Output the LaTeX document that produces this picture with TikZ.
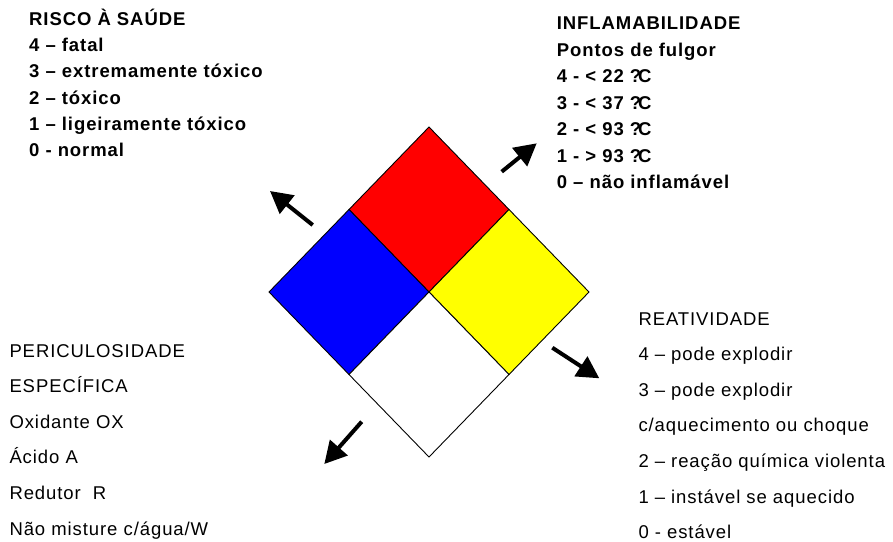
\documentclass[tikz,border=0pt]{standalone}
\usepackage{fontspec}
\setmainfont{Liberation Sans}
\newfontfamily\lblfont[LetterSpace=5]{Liberation Sans}
\usetikzlibrary{arrows.meta}
\begin{document}
\begin{tikzpicture}[x=1pt,y=-1pt,
  bl/.style={anchor=base west, inner sep=0pt, font=\lblfont\bfseries\fontsize{18.5}{22}\selectfont},
  rl/.style={anchor=base west, inner sep=0pt, font=\lblfont\fontsize{18.5}{22}\selectfont},
  quad/.style={draw=black, line width=0.9pt, line join=miter},
  hazarrow/.style={line width=4pt, -{Triangle[length=22pt,width=23pt]}}]
\useasboundingbox (0,0) rectangle (893,541);
% diamond vertices
\coordinate (T) at (429,127);
\coordinate (L) at (269,292);
\coordinate (R) at (589,292);
\coordinate (B) at (429,457);
\coordinate (C) at (429,292);
\coordinate (TL) at (349,209.5);
\coordinate (TR) at (509,209.5);
\coordinate (BL) at (349,374.5);
\coordinate (BR) at (509,374.5);
\filldraw[quad, fill={rgb,255:red,255;green,0;blue,0}] (T) -- (TR) -- (C) -- (TL) -- cycle;
\filldraw[quad, fill={rgb,255:red,0;green,0;blue,255}] (TL) -- (C) -- (BL) -- (L) -- cycle;
\filldraw[quad, fill={rgb,255:red,255;green,255;blue,0}] (TR) -- (R) -- (BR) -- (C) -- cycle;
\filldraw[quad, fill=white] (C) -- (BR) -- (B) -- (BL) -- cycle;
% arrows
\coordinate (a1s) at (312.7,225);   \coordinate (a1e) at (270,191);
\coordinate (a2s) at (501.7,171.7); \coordinate (a2e) at (536.7,143.3);
\coordinate (a3s) at (552.3,347.7); \coordinate (a3e) at (599.3,378.3);
\coordinate (a4s) at (361.7,421.7); \coordinate (a4e) at (324.3,464);
\draw[hazarrow] (a1s) -- (a1e);
\draw[hazarrow] (a2s) -- (a2e);
\draw[hazarrow] (a3s) -- (a3e);
\draw[hazarrow] (a4s) -- (a4e);
% health
\node[bl] (h0) at (29,25) {RISCO À SAÚDE};
\node[bl] (h1) at (29,51.5) {4 – fatal};
\node[bl] (h2) at (29,77.5) {3 – extremamente tóxico};
\node[bl] (h3) at (29,104) {2 – tóxico};
\node[bl] (h4) at (29,130.5) {1 – ligeiramente tóxico};
\node[bl] (h5) at (29,156.5) {0 - normal};
% flammability
\node[bl] (f0) at (556.7,29.3) {INFLAMABILIDADE};
\node[bl] (f1) at (556.7,56) {Pontos de fulgor};
\node[bl] (f2) at (556.7,82.5) {4 - < 22 ?\kern-3pt C};
\node[bl] (f3) at (556.7,109) {3 - < 37 ?\kern-3pt C};
\node[bl] (f4) at (556.7,135.5) {2 - < 93 ?\kern-3pt C};
\node[bl] (f5) at (556.7,162) {1 - > 93 ?\kern-3pt C};
\node[bl] (f6) at (556.7,188.5) {0 – não inflamável};
% specific
\node[rl] (s0) at (9.3,357) {PERICULOSIDADE};
\node[rl] (s1) at (9.3,392.6) {ESPECÍFICA};
\node[rl] (s2) at (9.3,428.2) {Oxidante OX};
\node[rl] (s3) at (9.3,463.8) {Ácido A};
\node[rl] (s4) at (9.3,499.4) {Redutor\ \ R};
\node[rl] (s5) at (9.3,535) {Não misture c/água/W};
% reactivity
\node[rl] (r0) at (638.3,325) {REATIVIDADE};
\node[rl] (r1) at (638.3,360.6) {4 – pode explodir};
\node[rl] (r2) at (638.3,396.2) {3 – pode explodir};
\node[rl] (r3) at (638.3,431.8) {c/aquecimento ou choque};
\node[rl] (r4) at (638.3,467.4) {2 – reação química violenta};
\node[rl] (r5) at (638.3,503) {1 – instável se aquecido};
\node[rl] (r6) at (638.3,538.6) {0 - estável};
\end{tikzpicture}
\end{document}
